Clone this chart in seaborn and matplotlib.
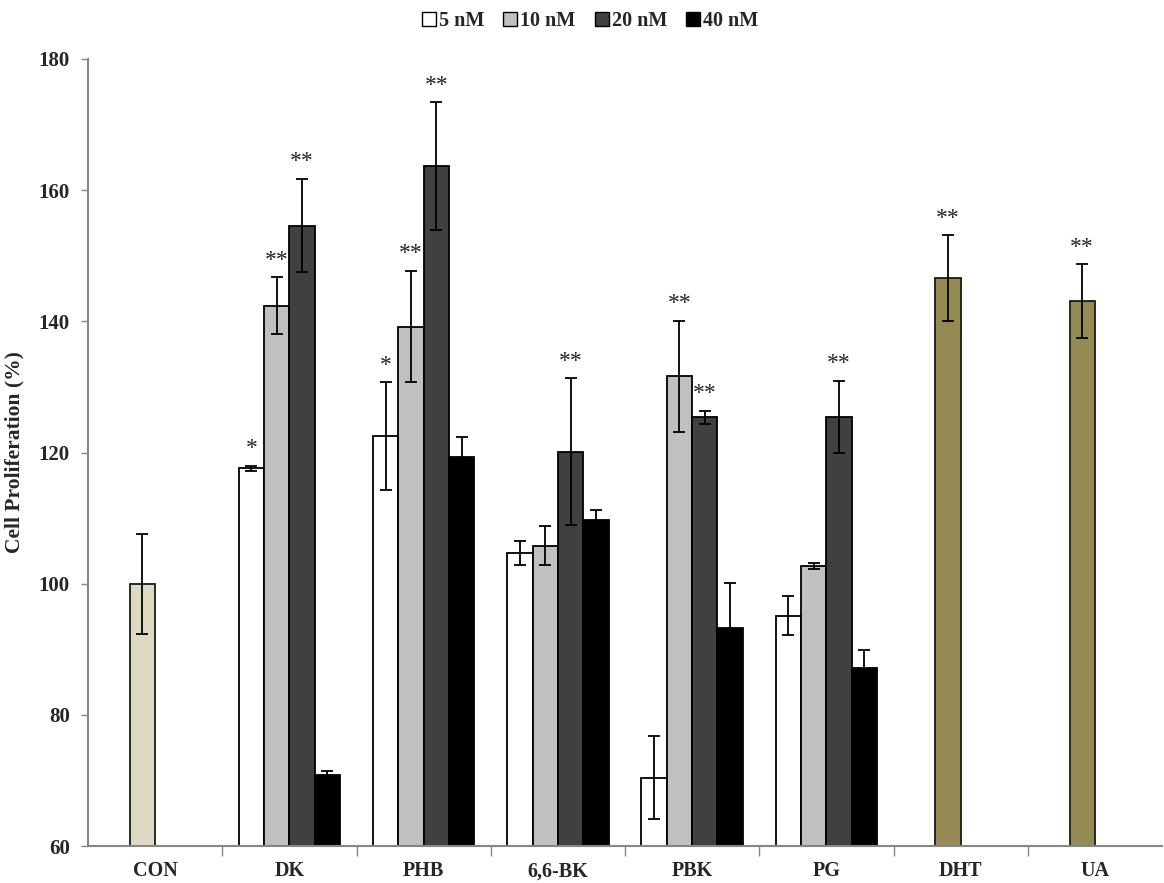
import matplotlib
matplotlib.use("Agg")
import matplotlib.pyplot as plt
from matplotlib.patches import Patch
import seaborn as sns
import pandas as pd
import numpy as np

# ---- data ----
groups = ["CON", "DK", "PHB", "6,6-BK", "PBK", "PG", "DHT", "UA"]
concs = ["5 nM", "10 nM", "20 nM", "40 nM"]

# mean cell proliferation (%) per group and concentration (None = not measured)
mean_5nM = [None, 117.6, 122.5, 104.7, 70.4, 95.1, None, None]
mean_10nM = [100.0, 142.4, 139.2, 105.8, 131.6, 102.7, 146.6, 143.1]
mean_20nM = [None, 154.6, 163.7, 120.1, 125.4, 125.4, None, None]
mean_40nM = [None, 70.8, 119.3, 109.7, 93.3, 87.2, None, None]

err_5nM = [None, 0.4, 8.2, 1.8, 6.3, 3.0, None, None]
err_10nM = [7.6, 4.3, 8.5, 3.0, 8.5, 0.5, 6.5, 5.6]
err_20nM = [None, 7.1, 9.7, 11.2, 1.0, 5.5, None, None]
err_40nM = [None, 0.7, 3.0, 1.6, 6.8, 2.7, None, None]

# significance marks
sig_5nM = ["", "*", "*", "", "", "", "", ""]
sig_10nM = ["", "**", "**", "", "**", "", "**", "**"]
sig_20nM = ["", "**", "**", "**", "**", "**", "", ""]
sig_40nM = ["", "", "", "", "", "", "", ""]

conc_colors = ["#FFFFFF", "#C0C0C0", "#404040", "#000000"]
single_colors = {"CON": "#DDD9C3", "DHT": "#948A54", "UA": "#948A54"}

means = [mean_5nM, mean_10nM, mean_20nM, mean_40nM]
errs = [err_5nM, err_10nM, err_20nM, err_40nM]
sigs = [sig_5nM, sig_10nM, sig_20nM, sig_40nM]

rows = []
for ci, c in enumerate(concs):
    for gi, g in enumerate(groups):
        if means[ci][gi] is not None:
            rows.append({"group": g, "conc": c, "value": means[ci][gi],
                         "err": errs[ci][gi], "sig": sigs[ci][gi]})
df = pd.DataFrame(rows)

# ---- figure ----
sns.set_style("white")
plt.rcParams["font.family"] = ["Liberation Serif", "DejaVu Serif"]
plt.rcParams["font.weight"] = "bold"

fig = plt.figure(figsize=(11.64, 8.83), dpi=100)
ax = fig.add_axes([88 / 1164, 1 - 846 / 883, 1074 / 1164, (846 - 59) / 883])

sns.barplot(data=df, x="group", y="value", hue="conc", order=groups,
            hue_order=concs, palette=conc_colors, width=0.756, gap=0,
            edgecolor="black", linewidth=1.3, errorbar=None, legend=False,
            ax=ax)

bar_w = 0.756 / 4
lookup = {(r.group, r.conc): r for r in df.itertuples()}
for p in ax.patches:
    h = p.get_height()
    if h is None or np.isnan(h) or p.get_width() == 0:
        continue
    xc = p.get_x() + p.get_width() / 2
    gi = int(round(xc))
    slot = int(round((xc - gi + 0.378 - bar_w / 2) / bar_w))
    g, c = groups[gi], concs[slot]
    r = lookup.get((g, c))
    if r is None:
        continue
    if g in single_colors:
        p.set_facecolor(single_colors[g])
        p.set_edgecolor("#1a1a1a")
    ax.errorbar(xc, r.value, yerr=r.err, fmt="none", ecolor="black",
                elinewidth=1.3, capsize=4, capthick=1.3, zorder=5)
    if r.sig:
        ax.text(xc, r.value + r.err + 1.0, r.sig, ha="center", va="bottom",
                fontsize=17, fontweight="normal", color="#222222")

ax.set_ylim(60, 180)
ax.set_xlim(-0.5, 7.5)
ax.set_yticks(np.arange(60, 181, 20))
ax.set_xticks(range(len(groups)))
ax.set_xticklabels(groups, fontsize=14.5, fontweight="bold")
ax.tick_params(axis="y", labelsize=15, length=5, width=1, color="#868686",
               direction="out", left=True, pad=8)
ax.tick_params(axis="x", which="major", length=0, pad=11)
ax.set_xticks(np.arange(0.5, 7.5, 1.0), minor=True)
ax.tick_params(axis="x", which="minor", length=7, width=1, color="#868686",
               direction="out", bottom=True)
for lab in ax.get_yticklabels():
    lab.set_fontweight("bold")

for s in ["top", "right"]:
    ax.spines[s].set_visible(False)
for s in ["left", "bottom"]:
    ax.spines[s].set_color("#868686")
    ax.spines[s].set_linewidth(1.5)

ax.set_xlabel("")
ax.set_ylabel("Cell Proliferation (%)", fontsize=15.5, fontweight="bold",
              labelpad=10)

handles = [Patch(facecolor=col, edgecolor="black", linewidth=1) for col in conc_colors]
fig.legend(handles, concs, loc="upper center", bbox_to_anchor=(0.507, 1.008),
           ncol=4, frameon=False, handlelength=0.7, handleheight=0.7,
           handletextpad=0.15, columnspacing=0.95,
           prop={"family": "Liberation Serif", "weight": "bold", "size": 14.5})

fig.savefig("out.png", dpi=100)
